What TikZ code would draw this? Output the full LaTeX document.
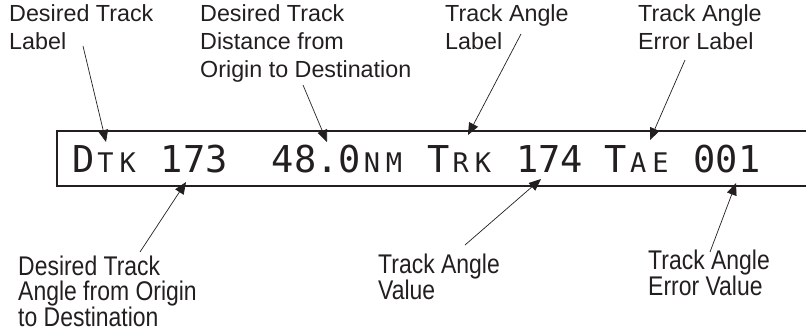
\documentclass[tikz,border=0pt]{standalone}
\usepackage{fontspec}
\setmainfont{Liberation Sans}
\newfontfamily\condfont[FakeStretch=0.85]{Liberation Sans}
\newfontfamily\dispfont{DejaVu Sans Mono}
\usetikzlibrary{arrows.meta}
\definecolor{ink}{HTML}{231F20}
\newcommand\bigch[1]{\makebox[22.2pt][c]{\fontsize{37}{37}\selectfont #1}}
\newcommand\smch[1]{\makebox[22.2pt][c]{\fontsize{27}{27}\selectfont #1}}
\newcommand\gap{\makebox[22.2pt]{}}
\begin{document}
\begin{tikzpicture}[x=1pt,y=-1pt,
  lbl/.style={font=\fontsize{23.3}{28}\selectfont, align=left, inner sep=0, anchor=north west, text=ink},
  lblb/.style={font=\condfont\fontsize{27}{24.5}\selectfont, align=left, inner sep=0, anchor=north west, text=ink},
  arr/.style={draw=ink, line width=0.7pt, -{Triangle[length=12pt,width=10pt]}},
  frame/.style={draw=ink, line width=1.2pt}]
\useasboundingbox (0,0) rectangle (806,333);
% display frame (open to the right)
\draw[frame] (806,131) -- (57,131) -- (57,186) -- (806,186);
% display text
\node[anchor=base west, inner sep=0, font=\dispfont, text=ink] (disp) at (72,172)
 {\bigch{D}\smch{T}\smch{K}\gap\bigch{1}\bigch{7}\bigch{3}\gap\gap\bigch{4}\bigch{8}\bigch{.}\bigch{0}\smch{N}\smch{M}\gap\bigch{T}\smch{R}\smch{K}\gap\bigch{1}\bigch{7}\bigch{4}\gap\bigch{T}\smch{A}\smch{E}\gap\bigch{0}\bigch{0}\bigch{1}};
% labels
\node[lbl] (l1) at (9,4) {Desired Track\\Label};
\node[lbl] (l2) at (200,4) {Desired Track\\Distance from\\Origin to Destination};
\node[lbl] (l3) at (445,4) {Track Angle\\Label};
\node[lbl] (l4) at (638,4) {Track Angle\\Error Label};
\node[lblb] (b1) at (18,256) {Desired Track\\Angle from Origin\\to Destination};
\node[lblb] (b2) at (378,254) {Track Angle\\Value};
\node[lblb] (b3) at (648,250) {Track Angle\\Error Value};
% connector ends
\coordinate (t1) at (83,46);   \coordinate (h1) at (106,142);
\coordinate (t2) at (303,85);  \coordinate (h2) at (327,142);
\coordinate (t3) at (521,34);  \coordinate (h3) at (468,135);
\coordinate (t4) at (685,60);  \coordinate (h4) at (650,140);
\coordinate (t5) at (140,252); \coordinate (h5) at (186,182);
\coordinate (t6) at (465,245); \coordinate (h6) at (541,179);
\coordinate (t7) at (710,252); \coordinate (h7) at (736,183);
\foreach \i in {1,...,7} {\draw[arr] (t\i) -- (h\i);}
\end{tikzpicture}
\end{document}
